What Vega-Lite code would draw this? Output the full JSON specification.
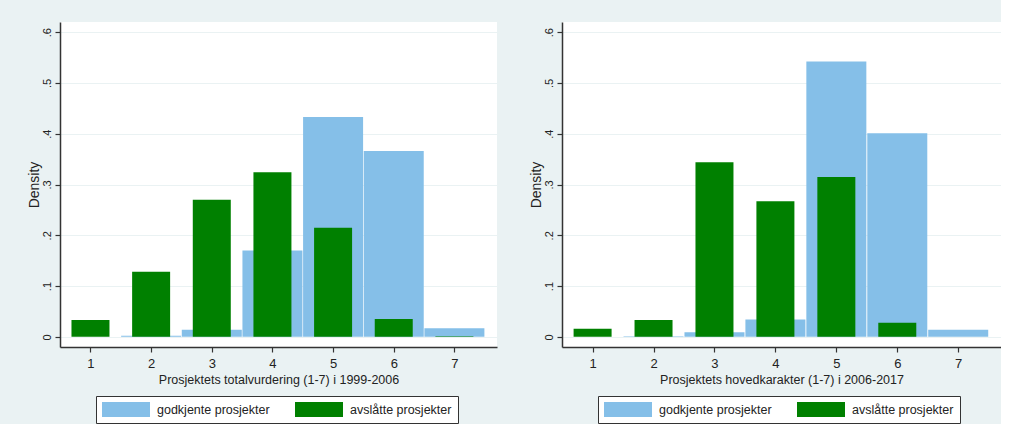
{
  "$schema": "https://vega.github.io/schema/vega-lite/v6.json",
  "background": "#eaf2f3",
  "padding": {"left": 27, "top": 22, "right": 0, "bottom": 0},
  "spacing": 32,
  "datasets": {
    "hist": [
      {"panel": "A", "score": 1, "group": "godkjente prosjekter", "density": 0},
      {"panel": "A", "score": 2, "group": "godkjente prosjekter", "density": 0.002},
      {"panel": "A", "score": 3, "group": "godkjente prosjekter", "density": 0.014},
      {"panel": "A", "score": 4, "group": "godkjente prosjekter", "density": 0.17},
      {"panel": "A", "score": 5, "group": "godkjente prosjekter", "density": 0.433},
      {"panel": "A", "score": 6, "group": "godkjente prosjekter", "density": 0.366},
      {"panel": "A", "score": 7, "group": "godkjente prosjekter", "density": 0.017},
      {"panel": "A", "score": 1, "group": "avslåtte prosjekter", "density": 0.033},
      {"panel": "A", "score": 2, "group": "avslåtte prosjekter", "density": 0.128},
      {"panel": "A", "score": 3, "group": "avslåtte prosjekter", "density": 0.27},
      {"panel": "A", "score": 4, "group": "avslåtte prosjekter", "density": 0.324},
      {"panel": "A", "score": 5, "group": "avslåtte prosjekter", "density": 0.215},
      {"panel": "A", "score": 6, "group": "avslåtte prosjekter", "density": 0.035},
      {"panel": "A", "score": 7, "group": "avslåtte prosjekter", "density": 0.001},
      {"panel": "B", "score": 1, "group": "godkjente prosjekter", "density": 0},
      {"panel": "B", "score": 2, "group": "godkjente prosjekter", "density": 0.001},
      {"panel": "B", "score": 3, "group": "godkjente prosjekter", "density": 0.009},
      {"panel": "B", "score": 4, "group": "godkjente prosjekter", "density": 0.034},
      {"panel": "B", "score": 5, "group": "godkjente prosjekter", "density": 0.542},
      {"panel": "B", "score": 6, "group": "godkjente prosjekter", "density": 0.401},
      {"panel": "B", "score": 7, "group": "godkjente prosjekter", "density": 0.014},
      {"panel": "B", "score": 1, "group": "avslåtte prosjekter", "density": 0.016},
      {"panel": "B", "score": 2, "group": "avslåtte prosjekter", "density": 0.033},
      {"panel": "B", "score": 3, "group": "avslåtte prosjekter", "density": 0.344},
      {"panel": "B", "score": 4, "group": "avslåtte prosjekter", "density": 0.267},
      {"panel": "B", "score": 5, "group": "avslåtte prosjekter", "density": 0.315},
      {"panel": "B", "score": 6, "group": "avslåtte prosjekter", "density": 0.028},
      {"panel": "B", "score": 7, "group": "avslåtte prosjekter", "density": 0}
    ]
  },
  "config": {
    "font": "Liberation Sans",
    "view": {"fill": "white", "stroke": null},
    "axis": {
      "domainColor": "#333333",
      "domainWidth": 1.5,
      "tickColor": "#333333",
      "tickWidth": 1.2,
      "tickSize": 5,
      "labelColor": "#222222",
      "titleColor": "#222222",
      "titleFontWeight": "normal",
      "labelFont": "Liberation Sans",
      "titleFont": "Liberation Sans",
      "gridColor": "#eaf2f3",
      "gridWidth": 1.2
    },
    "legend": {
      "orient": "none",
      "legendX": 36,
      "legendY": 374,
      "direction": "horizontal",
      "strokeColor": "#333333",
      "fillColor": "white",
      "padding": 6,
      "symbolType": "M-1,-1H5.4V1H-1Z",
      "symbolSize": 225,
      "symbolStrokeWidth": 0,
      "symbolOpacity": 1,
      "labelOffset": 40,
      "columnPadding": 25,
      "labelFont": "Liberation Sans",
      "labelFontSize": 12.5,
      "labelColor": "#222222",
      "title": null
    }
  },
  "resolve": {"scale": {"color": "independent"}, "legend": {"color": "independent"}},
  "hconcat": [
    {
      "width": 437,
      "height": 325,
      "data": {"name": "hist"},
      "transform": [{"filter": "datum.panel == 'A'"}],
      "encoding": {
        "x": {
          "field": "score", "type": "quantitative",
          "scale": {"domain": [0.58, 7.62], "nice": false, "zero": false},
          "axis": {
            "values": [1, 2, 3, 4, 5, 6, 7], "grid": false,
            "title": "Prosjektets totalvurdering (1-7) i 1999-2006",
            "labelFontSize": 13, "labelPadding": 5,
            "titleFontSize": 12.5, "titlePadding": 3
          }
        },
        "y": {
          "field": "density", "type": "quantitative",
          "scale": {"domain": [-0.02, 0.62], "nice": false, "zero": false},
          "axis": {
            "values": [0, 0.1, 0.2, 0.3, 0.4, 0.5, 0.6],
            "labelExpr": "datum.value == 0 ? '0' : replace(format(datum.value, '.1f'), '0.', '.')",
            "labelAngle": -90, "labelAlign": "center", "labelBaseline": "bottom",
            "labelFontSize": 11, "labelPadding": 3,
            "title": "Density",
            "titleFontSize": 14, "titlePadding": 0
          }
        },
        "color": {
          "field": "group", "type": "nominal",
          "scale": {"domain": ["godkjente prosjekter", "avslåtte prosjekter"], "range": ["#85bfe8", "#008000"]},
          "legend": {}
        }
      },
      "layer": [
        {"transform": [{"filter": "datum.group == 'godkjente prosjekter'"}], "mark": {"type": "bar", "size": 60, "opacity": 1}},
        {"transform": [{"filter": "datum.group == 'avslåtte prosjekter'"}], "mark": {"type": "bar", "size": 38, "opacity": 1}}
      ]
    },
    {
      "width": 439,
      "height": 325,
      "data": {"name": "hist"},
      "transform": [{"filter": "datum.panel == 'B'"}],
      "encoding": {
        "x": {
          "field": "score", "type": "quantitative",
          "scale": {"domain": [0.58, 7.62], "nice": false, "zero": false},
          "axis": {
            "values": [1, 2, 3, 4, 5, 6, 7], "grid": false,
            "title": "Prosjektets hovedkarakter (1-7) i 2006-2017",
            "labelFontSize": 13, "labelPadding": 5,
            "titleFontSize": 12.5, "titlePadding": 3
          }
        },
        "y": {
          "field": "density", "type": "quantitative",
          "scale": {"domain": [-0.02, 0.62], "nice": false, "zero": false},
          "axis": {
            "values": [0, 0.1, 0.2, 0.3, 0.4, 0.5, 0.6],
            "labelExpr": "datum.value == 0 ? '0' : replace(format(datum.value, '.1f'), '0.', '.')",
            "labelAngle": -90, "labelAlign": "center", "labelBaseline": "bottom",
            "labelFontSize": 11, "labelPadding": 3,
            "title": "Density",
            "titleFontSize": 14, "titlePadding": 0
          }
        },
        "color": {
          "field": "group", "type": "nominal",
          "scale": {"domain": ["godkjente prosjekter", "avslåtte prosjekter"], "range": ["#85bfe8", "#008000"]},
          "legend": {}
        }
      },
      "layer": [
        {"transform": [{"filter": "datum.group == 'godkjente prosjekter'"}], "mark": {"type": "bar", "size": 60, "opacity": 1}},
        {"transform": [{"filter": "datum.group == 'avslåtte prosjekter'"}], "mark": {"type": "bar", "size": 38, "opacity": 1}}
      ]
    }
  ]
}
